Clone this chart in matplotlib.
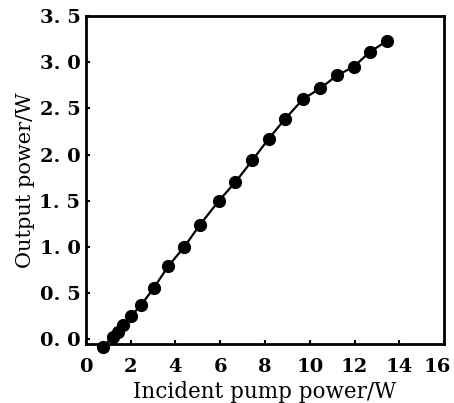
import matplotlib.pyplot as plt
import matplotlib.transforms as mtransforms
from matplotlib.ticker import FuncFormatter

# Incident pump power (W) and output power (W)
pump_power = [0.75, 1.22, 1.44, 1.67, 2.0, 2.46, 3.04, 3.67, 4.39, 5.09, 5.94,
              6.67, 7.44, 8.16, 8.91, 9.7, 10.48, 11.24, 11.96, 12.68, 13.45]
output_power = [-0.08, 0.03, 0.08, 0.16, 0.25, 0.37, 0.56, 0.79, 1.0, 1.24, 1.5,
                1.7, 1.94, 2.17, 2.39, 2.6, 2.72, 2.86, 2.95, 3.11, 3.23]

x_ticks = [0, 2, 4, 6, 8, 10, 12, 14, 16]
y_ticks = [0.0, 0.5, 1.0, 1.5, 2.0, 2.5, 3.0, 3.5]

plt.rcParams["font.family"] = ["DejaVu Serif"]

fig = plt.figure(figsize=(4.54, 4.03), dpi=100)
ax = fig.add_axes([0.1894, 0.1464, 0.7886, 0.8139])

ax.plot(pump_power, output_power, color="black", linewidth=1.6,
        marker="o", markersize=8.5, clip_on=False, zorder=3)

ax.set_xlim(0, 16)
ax.set_ylim(-0.05, 3.5)
ax.set_xticks(x_ticks)
ax.set_yticks(y_ticks)
ax.yaxis.set_major_formatter(FuncFormatter(lambda v, _: f"{v:.1f}".replace(".", ". ")))

for side in ["left", "right", "top", "bottom"]:
    ax.spines[side].set_linewidth(2)

ax.tick_params(direction="in", length=3, width=1.5, labelsize=14)
ax.tick_params(axis="x", pad=10)
ax.tick_params(axis="y", pad=4)
for lab in ax.get_xticklabels() + ax.get_yticklabels():
    lab.set_fontweight("semibold")

# last x label sits a little left so it stays inside the figure
last = ax.get_xticklabels()[-1]
last.set_transform(last.get_transform()
                   + mtransforms.ScaledTranslation(-5 / 72, 0, fig.dpi_scale_trans))

ax.set_xlabel("Incident pump power/W", fontsize=15.5, labelpad=4)
ax.set_ylabel("Output power/W", fontsize=15, labelpad=3)

plt.savefig("out.png", dpi=100)
